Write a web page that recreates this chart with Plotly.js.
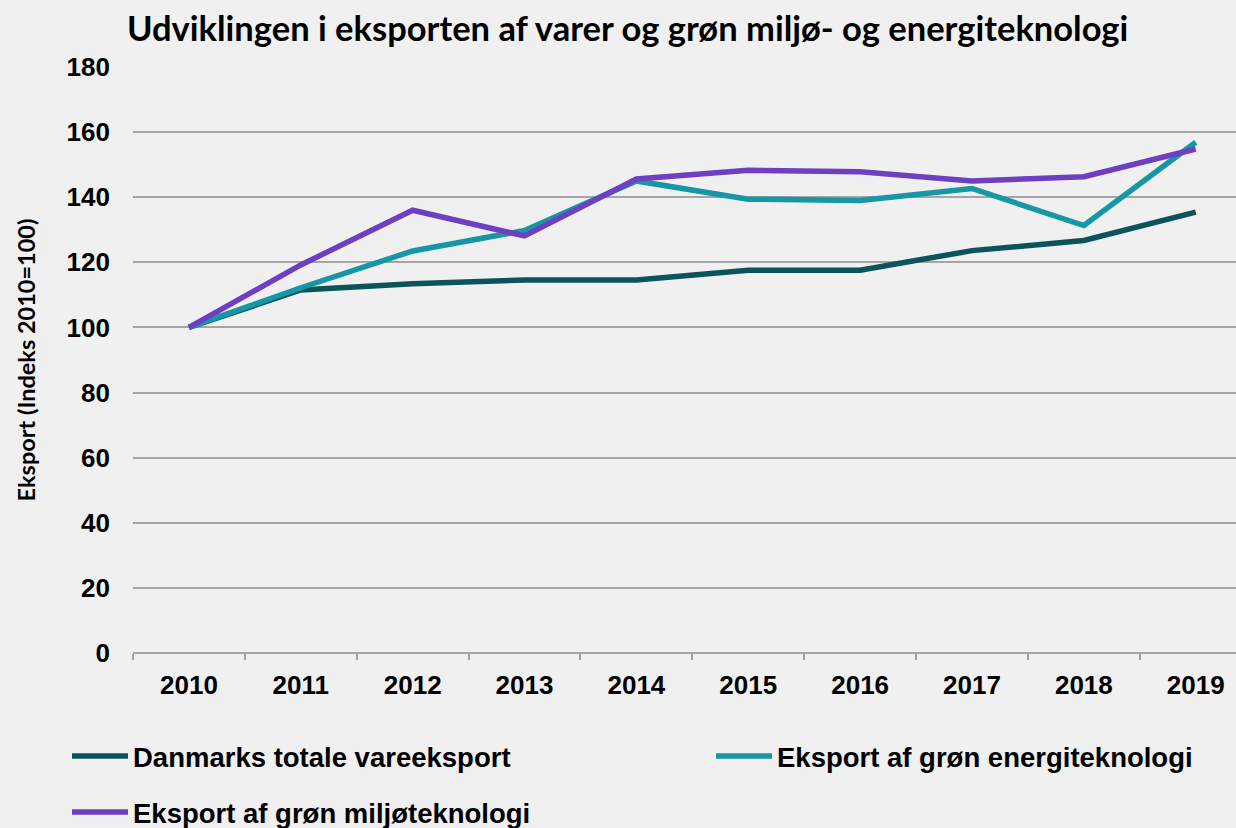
<!DOCTYPE html>
<html>
<head>
<meta charset="utf-8">
<script src="https://cdn.plot.ly/plotly-3.0.1.min.js"></script>
<style>html,body{margin:0;padding:0;background:#f0f0f0;}#chart{width:1236px;height:828px;}</style>
</head>
<body>
<div id="chart"></div>
<script>
const years = ['2010','2011','2012','2013','2014','2015','2016','2017','2018','2019'];
const totalExport = [100, 111.5, 113.4, 114.6, 114.6, 117.6, 117.6, 123.6, 126.7, 135.4];
const energyTech = [100, 112.2, 123.5, 129.8, 145.0, 139.4, 139.0, 142.7, 131.3, 156.9];
const envTech = [100, 119.2, 136.0, 128.1, 145.6, 148.3, 147.8, 145.0, 146.3, 154.8];
const seriesNames = ['Danmarks totale vareeksport', 'Eksport af grøn energiteknologi', 'Eksport af grøn miljøteknologi'];
const yTicks = [0, 20, 40, 60, 80, 100, 120, 140, 160, 180];

const tickFont = {family: 'Liberation Sans, Arial, sans-serif', size: 26, color: '#000', weight: 'bold'};
const legendFont = {family: 'Liberation Sans, Arial, sans-serif', size: 27.5, color: '#000', weight: 'bold'};

const traces = [
  {x: years, y: totalExport, name: seriesNames[0], type: 'scatter', mode: 'lines',
   line: {color: '#0b5459', width: 5.5}, legend: 'legend'},
  {x: years, y: energyTech, name: seriesNames[1], type: 'scatter', mode: 'lines',
   line: {color: '#1697a6', width: 5.5}, legend: 'legend2'},
  {x: years, y: envTech, name: seriesNames[2], type: 'scatter', mode: 'lines',
   line: {color: '#6e3fc0', width: 5.5}, legend: 'legend3'}
];

function legendAt(xPx, yPx) {
  return {orientation: 'h', x: xPx/1236, xanchor: 'left', y: 1 - yPx/828, yanchor: 'middle',
    xref: 'container', yref: 'container', font: legendFont, bgcolor: 'rgba(0,0,0,0)', itemwidth: 56};
}

const layout = {
  width: 1236, height: 828,
  paper_bgcolor: '#f0f0f0', plot_bgcolor: '#f0f0f0',
  margin: {l: 133, r: 0, t: 67, b: 175},
  title: {text: 'Udviklingen i eksporten af varer og grøn miljø- og energiteknologi',
    font: {family: 'Lato, sans-serif', size: 34.5, color: '#000', weight: 'bold'},
    x: 127/1236, xanchor: 'left', xref: 'container', y: 1 - 29/828, yanchor: 'middle', yref: 'container'},
  xaxis: {type: 'category', range: [-0.5, 9.36], showgrid: false, zeroline: false,
    showline: false, ticks: 'outside', tickson: 'boundaries', ticklen: 6, tickcolor: '#a0a0a0', tickwidth: 2,
    tickfont: tickFont, ticklabelstandoff: 14, fixedrange: true},
  yaxis: {range: [0, 180], tickvals: yTicks, showgrid: true, gridcolor: '#a6a6a6', gridwidth: 2,
    zeroline: true, zerolinecolor: '#a6a6a6', zerolinewidth: 2, showline: false, ticks: '',
    tickfont: tickFont, ticklabelstandoff: 22,
    title: {text: 'Eksport (Indeks 2010=100)', font: {family: 'Lato, sans-serif', size: 23.5, color: '#000', weight: 'bold'}, standoff: 24},
    fixedrange: true},
  showlegend: true,
  legend: legendAt(67, 756),
  legend2: legendAt(711, 756),
  legend3: legendAt(67, 812)
};

Plotly.newPlot('chart', traces, layout, {displayModeBar: false, staticPlot: true});
</script>
</body>
</html>
